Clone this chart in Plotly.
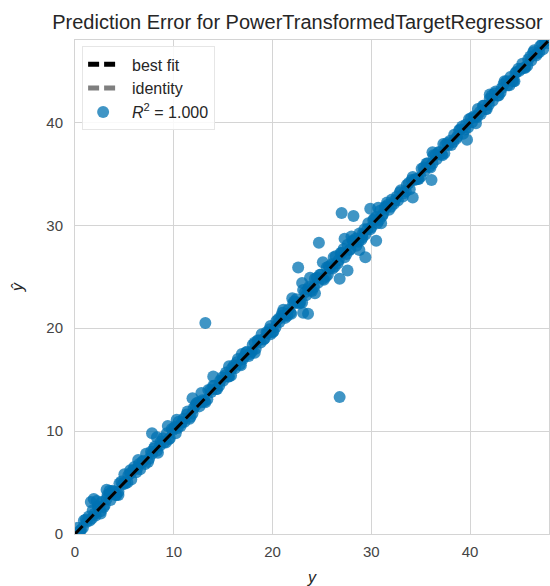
import plotly.graph_objects as go

# Observed target values and model predictions
y_true = [
    0.3, 0.6, 0.9, 1.2, 1.5, 1.8, 2.1, 2.4, 2.7, 3.0,
    3.3, 3.6, 3.9, 4.2, 4.5, 4.8, 5.1, 5.4, 5.7, 6.0,
    6.3, 6.6, 6.9, 7.2, 7.5, 7.8, 8.1, 8.4, 8.7, 9.0,
    9.3, 9.6, 9.9, 10.2, 10.5, 10.8, 11.1, 11.4, 11.7, 12.0,
    12.3, 12.6, 12.9, 13.2, 13.5, 13.8, 14.1, 14.4, 14.7, 15.0,
    15.3, 15.6, 15.9, 16.2, 16.5, 16.8, 17.1, 17.4, 17.7, 18.0,
    18.3, 18.6, 18.9, 19.2, 19.5, 19.8, 20.1, 20.4, 20.7, 21.0,
    21.3, 21.6, 21.9, 22.2, 22.5, 22.8, 23.1, 23.4, 23.7, 24.0,
    24.3, 24.6, 24.9, 25.2, 25.5, 25.8, 26.1, 26.4, 26.7, 27.0,
    27.3, 27.6, 27.9, 28.2, 28.5, 28.8, 29.1, 29.4, 29.7, 30.0,
    30.3, 30.6, 30.9, 31.2, 31.5, 31.8, 32.1, 32.4, 32.7, 33.0,
    33.3, 33.6, 33.9, 34.2, 34.5, 34.8, 35.1, 35.4, 35.7, 36.0,
    36.3, 36.6, 36.9, 37.2, 37.5, 37.8, 38.1, 38.4, 38.7, 39.0,
    39.3, 39.6, 39.9, 40.2, 40.5, 40.8, 41.1, 41.4, 41.7, 42.0,
    42.3, 42.6, 42.9, 43.2, 43.5, 43.8, 44.1, 44.4, 44.7, 45.0,
    45.3, 45.6, 45.9, 46.2, 46.5, 46.8, 47.1, 47.4, 47.7, 48.0,
    0.5, 1.1, 1.7, 2.3, 2.9, 3.5, 4.1, 4.7, 5.3, 5.9,
    6.5, 7.1, 7.7, 8.3, 8.9, 9.5, 10.1, 10.7, 11.3, 11.9,
    12.5, 13.1, 13.7, 14.3, 14.9, 15.5, 16.1, 16.7, 17.3, 17.9,
    18.5, 19.1, 19.7, 20.3, 20.9, 21.5, 22.1, 22.7, 23.3, 23.9,
    24.5, 25.1, 25.7, 26.3, 26.9, 27.5, 28.1, 28.7, 29.3, 29.9,
    30.5, 31.1, 31.7, 32.3, 32.9, 33.5, 34.1, 34.7, 35.3, 35.9,
    36.5, 37.1, 37.7, 38.3, 38.9, 39.5, 40.1, 40.7, 41.3, 41.9,
    42.5, 43.1, 43.7, 44.3, 44.9, 45.5, 46.1, 46.7, 47.3, 47.9,
    0.8, 1.4, 2.0, 2.6, 3.2, 3.8, 4.4, 5.0, 5.6, 6.2,
    6.8, 7.4, 8.0, 8.6, 9.2, 9.8, 10.4, 11.0, 11.6, 12.2,
    12.8, 13.4, 14.0, 14.6, 15.2, 15.8, 16.4, 17.0, 17.6, 18.2,
    18.8, 19.4, 20.0, 20.6, 21.2, 21.8, 22.4, 23.0, 23.6, 24.2,
    24.8, 25.4, 26.0, 26.6, 27.2, 27.8, 28.4, 29.0, 29.6, 30.2,
    30.8, 31.4, 32.0, 32.6, 33.2, 33.8, 34.4, 35.0, 35.6, 36.2,
    36.8, 37.4, 38.0, 38.6, 39.2, 39.8, 40.4, 41.0, 41.6, 42.2,
    42.8, 43.4, 44.0, 44.6, 45.2, 45.8, 46.4, 47.0, 47.6,
    1.6, 1.9, 2.2, 3.2, 3.5, 5.0, 5.6, 6.4, 7.8, 8.3,
    4.4, 2.6, 9.4, 10.3, 11.9, 14.0, 13.2, 12.8, 15.6, 16.9,
    18.2, 19.8, 21.1, 22.0, 22.6, 23.0, 23.8, 23.1, 23.6, 24.7,
    25.1, 24.3, 25.6, 26.8, 27.6, 27.0, 28.2, 27.3, 28.8, 29.1,
    29.4, 29.9, 30.7, 30.5, 26.8, 26.2, 28.0, 31.0, 31.6, 34.2,
    36.1, 36.2, 39.7, 37.3, 40.6, 42.0, 44.5,
]
y_pred = [
    0.6, 0.4, 1.3, 1.2, 1.3, 2.3, 1.8, 2.6, 3.1, 2.8,
    3.8, 3.3, 4.1, 3.8, 4.9, 4.8, 4.9, 5.7, 5.3, 6.5,
    6.4, 6.3, 7.1, 7.8, 7.3, 7.8, 8.5, 7.9, 9.0, 8.9,
    9.8, 9.3, 10.1, 9.8, 10.9, 10.8, 10.9, 11.9, 11.4, 12.2,
    12.7, 12.4, 13.0, 12.8, 14.0, 13.8, 14.4, 14.1, 14.9, 14.9,
    15.7, 15.3, 16.1, 16.1, 17.0, 16.4, 17.2, 17.7, 17.5, 18.4,
    18.0, 18.8, 19.4, 19.0, 19.5, 20.2, 19.7, 20.7, 20.6, 21.5,
    21.0, 21.8, 21.4, 22.6, 22.5, 22.5, 23.7, 23.2, 24.0, 23.6,
    24.8, 24.4, 25.2, 24.7, 25.9, 25.8, 25.8, 27.0, 26.6, 27.3,
    26.9, 28.1, 27.7, 28.4, 28.0, 29.2, 29.1, 29.1, 30.2, 29.8,
    30.6, 30.2, 31.4, 31.1, 31.7, 31.5, 32.5, 32.4, 32.4, 33.4,
    33.1, 33.9, 33.5, 34.7, 34.5, 34.5, 35.5, 35.3, 36.0, 35.6,
    36.8, 36.4, 37.1, 36.8, 37.8, 37.8, 37.8, 38.8, 38.6, 39.3,
    38.9, 39.8, 40.3, 40.0, 40.5, 41.3, 40.8, 41.6, 41.3, 42.3,
    42.1, 43.0, 42.6, 43.3, 44.0, 43.6, 44.4, 44.0, 44.9, 45.0,
    45.7, 45.3, 46.1, 46.0, 47.0, 46.7, 47.4, 47.1, 47.9, 48.0,
    0.3, 1.4, 1.5, 2.7, 2.6, 3.9, 3.8, 5.1, 5.0, 6.2,
    6.8, 6.8, 8.0, 8.1, 9.3, 9.2, 10.4, 10.5, 11.6, 11.7,
    12.8, 12.9, 14.0, 14.1, 15.2, 15.3, 16.4, 16.5, 17.6, 17.7,
    18.8, 18.9, 19.9, 20.1, 21.2, 21.2, 22.4, 22.4, 23.5, 23.7,
    24.9, 24.8, 26.0, 26.0, 27.3, 27.2, 28.5, 28.4, 29.6, 29.6,
    30.8, 30.9, 32.0, 32.1, 33.2, 33.3, 34.4, 34.5, 35.6, 35.7,
    36.8, 36.9, 38.0, 38.1, 39.2, 39.3, 40.4, 40.5, 41.6, 41.7,
    42.8, 42.9, 44.0, 44.1, 45.2, 45.3, 46.4, 46.5, 47.6, 47.7,
    0.6, 1.7, 2.0, 2.2, 3.4, 4.2, 4.1, 5.0, 5.9, 6.0,
    7.0, 7.0, 8.3, 8.6, 8.9, 10.2, 10.3, 11.2, 11.2, 12.5,
    12.8, 13.1, 14.4, 14.4, 15.4, 15.4, 16.7, 17.0, 17.3, 18.6,
    18.6, 19.6, 19.6, 20.9, 21.2, 21.5, 22.8, 22.5, 23.8, 24.0,
    25.2, 25.0, 26.2, 26.3, 27.7, 27.6, 28.7, 28.6, 29.6, 30.5,
    30.5, 31.8, 31.8, 32.8, 32.8, 34.1, 34.4, 34.7, 36.0, 36.0,
    37.1, 37.0, 38.2, 38.4, 39.6, 39.5, 40.6, 41.0, 41.3, 42.6,
    42.6, 43.7, 43.6, 44.8, 45.2, 45.5, 46.8, 46.8, 47.9,
    3.1, 3.4, 3.2, 4.3, 4.2, 5.8, 6.2, 7.2, 9.8, 9.4,
    3.8, 2.0, 10.5, 11.1, 13.2, 15.3, 20.5, 13.7, 16.3, 17.5,
    17.6, 19.4, 21.8, 22.9, 25.9, 24.4, 24.9, 21.5, 21.4, 28.3,
    26.4, 23.4, 25.2, 24.8, 25.6, 31.2, 30.9, 28.7, 27.6, 28.8,
    26.9, 31.6, 31.7, 28.5, 13.3, 26.9, 28.9, 30.2, 32.2, 32.7,
    34.4, 37.1, 38.3, 37.9, 39.9, 42.7, 44.0,
]

# Fitted line and identity line across the shared axis limits
fit_x = [0, 48]
fit_y = [0, 48]
ident_x = [0, 48]
ident_y = [0, 48]

r2_label = "<i>R</i><sup>2</sup>&nbsp;=&nbsp;1.000"
axis_ticks = [0, 10, 20, 30, 40]
lim = [0, 48]

FONT = "Liberation Sans, Arial, sans-serif"
GRID = "#d4d4d4"
PAD = "&nbsp;&nbsp;"

fig = go.Figure()

fig.add_trace(go.Scatter(
    x=y_true, y=y_pred, mode="markers", name=PAD + r2_label,
    marker=dict(color="#0072B2", size=12, opacity=0.75, line=dict(width=0)),
    legendrank=3,
))
fig.add_trace(go.Scatter(
    x=ident_x, y=ident_y, mode="lines", name=PAD + "identity",
    line=dict(color="#7f7f7f", width=2.5, dash="11px,5px"),
    legendrank=2,
))
fig.add_trace(go.Scatter(
    x=fit_x, y=fit_y, mode="lines", name=PAD + "best fit",
    line=dict(color="#000000", width=3, dash="11px,5px"),
    legendrank=1,
))

axis_common = dict(
    range=lim, tickvals=axis_ticks, showgrid=True, gridcolor=GRID, gridwidth=1,
    zeroline=False, showline=True, linecolor=GRID, linewidth=1, mirror=True,
    ticks="", tickfont=dict(size=15, color="#444444", family=FONT),
)

fig.update_layout(
    width=550, height=586,
    margin=dict(l=75, r=1, t=40, b=52),
    paper_bgcolor="white", plot_bgcolor="white",
    font=dict(family=FONT, color="#262626"),
    title=dict(
        text="Prediction Error for PowerTransformedTargetRegressor",
        x=297.5 / 550, xref="container", xanchor="center",
        y=1 - 22 / 586, yref="container", yanchor="middle",
        font=dict(size=20, color="#262626", family=FONT),
    ),
    xaxis=dict(
        axis_common,
        ticklabelstandoff=4,
        title=dict(text="<i>y</i>", font=dict(size=16, color="#262626"), standoff=12),
        automargin=False,
    ),
    yaxis=dict(
        axis_common,
        ticklabelstandoff=8,
        title=dict(text="<i>ŷ</i>", font=dict(size=16, color="#262626"), standoff=18),
        automargin=False,
    ),
    legend=dict(
        x=0.015, y=0.987, xanchor="left", yanchor="top",
        bgcolor="rgba(255,255,255,0.85)", bordercolor="#e6e6e6", borderwidth=1,
        font=dict(size=16, color="#262626", family=FONT),
        itemsizing="constant", tracegroupgap=0,
    ),
    showlegend=True,
)

fig.write_html("out.html")
